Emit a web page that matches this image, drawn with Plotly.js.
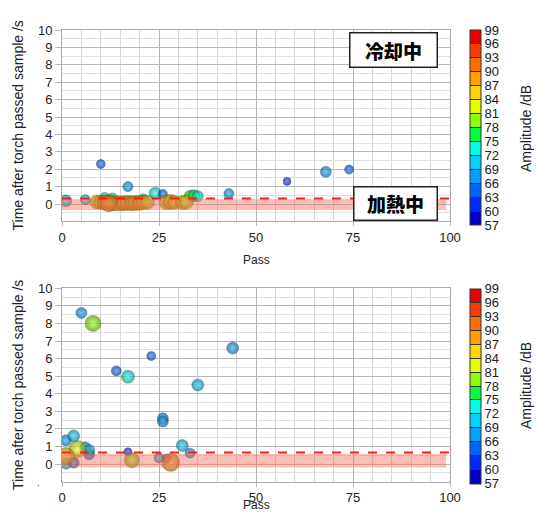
<!DOCTYPE html>
<html>
<head>
<meta charset="utf-8">
<script src="https://cdn.plot.ly/plotly-3.0.1.min.js"></script>
<style>html,body{margin:0;padding:0;background:#fff;}#chart{width:536px;height:515px;}</style>
</head>
<body>
<div id="chart"></div>
<script>
// ---- data ----
// Top panel (cooling / heating)
const topPass = [11, 13, 21, 1, 6, 10, 17, 24, 26, 43, 58, 68, 74,
  9, 10, 11, 13, 14, 15, 16, 17, 18, 19, 20, 21, 22, 12,
  33, 34, 35, 27, 28, 29, 31, 32];
const topTime = [0.38, 0.35, 0.3, 0.18, 0.25, 2.3, 1.0, 0.62, 0.58, 0.6, 1.3, 1.85, 1.98,
  0.12, 0.1, 0.08, 0.05, 0.05, 0.04, 0.05, 0.06, 0.05, 0.06, 0.07, 0.08, 0.1, 0.05,
  0.45, 0.48, 0.45, 0.1, 0.12, 0.1, 0.08, 0.1];
const topAmp = [73, 74, 72, 71, 70, 64, 67, 72, 64, 67, 61, 68, 65,
  85, 86, 87, 88, 86, 86, 87, 86, 87, 86, 87, 86, 85, 89,
  77, 76, 72, 84, 85, 84, 84, 83];
const topSize = [10, 10, 10, 12, 10, 9, 10, 12, 9, 10, 8, 11, 9,
  14, 14, 15, 15, 15, 15, 15, 15, 15, 15, 15, 14, 14, 17,
  12, 12, 11, 15, 15, 14, 14, 14];

// Bottom panel
const botPass = [5, 8, 14, 17, 23, 44, 35, 26, 26, 31, 33, 17, 25, 27, 18, 28,
  1, 3, 1, 3, 6, 7, 7, 4, 1];
const botTime = [8.6, 8.0, 5.3, 4.97, 6.15, 6.6, 4.5, 2.6, 2.42, 1.05, 0.62, 0.7, 0.35, 0.3, 0.22, 0.1,
  1.35, 1.6, 0.05, 0.08, 0.95, 0.55, 0.8, 0.85, 0.45];
const botAmp = [67, 80, 64, 73, 64, 67, 71, 68, 68, 71, 66, 61, 66, 64, 79, 88,
  68, 70, 70, 65, 67, 63, 71, 82, 86];
const botSize = [11, 16, 10, 13, 9, 12, 12, 11, 11, 12, 10, 8, 10, 9, 15, 18,
  11, 12, 12, 11, 11, 11, 11, 17, 17];

// thresholds
const topDashY = 0.32, topBand = [-0.35, 0.28];
const botDashY = 0.65, botBand = [-0.2, 0.57];

const cbTicks = [57, 60, 63, 66, 69, 72, 75, 78, 81, 84, 87, 90, 93, 96, 99];
const xTicks = [0, 25, 50, 75, 100];
const yTicks = [0, 1, 2, 3, 4, 5, 6, 7, 8, 9, 10];

// ---- styling ----
const bandColors = ['#0000C8', '#0028FF', '#0064FF', '#00A0FF', '#00D2FF', '#00FFE6', '#00FF3C',
  '#8CFF00', '#E6FF00', '#FFD700', '#FFA000', '#FF6E00', '#FF3C00', '#E60000'];
const cmin = 57, cmax = 99;
const colorscale = [];
bandColors.forEach((c, i) => {
  colorscale.push([i / bandColors.length, c]);
  colorscale.push([(i + 1) / bandColors.length, c]);
});
function hex2rgb(h) { return [parseInt(h.slice(1, 3), 16), parseInt(h.slice(3, 5), 16), parseInt(h.slice(5, 7), 16)]; }
function ampColor(a) {
  let i = Math.floor((a - cmin) / 3);
  i = Math.max(0, Math.min(bandColors.length - 1, i));
  return hex2rgb(bandColors[i]);
}
function mix(rgb, t, target) {
  return 'rgb(' + rgb.map((v, k) => Math.round(v + (target[k] - v) * t)).join(',') + ')';
}
const centre = a => mix(ampColor(a), 0.22, [255, 255, 255]);
const rim = a => mix(ampColor(a), 0.42, [0, 0, 0]);
const rimLine = a => mix(ampColor(a), 0.6, [0, 0, 0]);

const W = 536, H = 515;
const px = v => v / W, py = v => 1 - v / H;

function spheres(xs, ys, amps, sizes, xa, ya) {
  return {
    type: 'scatter', mode: 'markers', x: xs, y: ys, xaxis: xa, yaxis: ya,
    hoverinfo: 'x+y',
    marker: {
      size: sizes, color: amps.map(rim),
      gradient: { type: 'radial', color: amps.map(centre) },
      line: { width: 0.5, color: amps.map(rimLine) }
    }
  };
}
function scaleTrace(xa, ya, cbCenter) {
  return {
    type: 'scatter', mode: 'markers', x: cbTicks.map(() => -50), y: cbTicks.map(() => -50),
    xaxis: xa, yaxis: ya, hoverinfo: 'skip',
    marker: {
      size: 1, color: cbTicks, colorscale: colorscale, cmin: cmin, cmax: cmax, showscale: true,
      colorbar: {
        x: px(470), xanchor: 'left', xpad: 0, ypad: 0,
        y: py(cbCenter), yanchor: 'middle', len: 195, lenmode: 'pixels',
        thickness: 11, thicknessmode: 'pixels',
        outlinecolor: '#333', outlinewidth: 1,
        tickmode: 'array', tickvals: cbTicks, ticktext: cbTicks.map(String),
        ticks: 'inside', ticklen: 11, tickcolor: '#333', tickwidth: 1,
        tickfont: { family: 'Liberation Sans, Arial, sans-serif', size: 13, color: '#222' }
      }
    }
  };
}

const axisCommon = {
  showline: true, mirror: true, linecolor: '#a8a8a8', linewidth: 1,
  zeroline: false, ticks: 'outside', tickcolor: '#b8b8b8', tickfont: { family: 'Liberation Sans, Arial, sans-serif', size: 13, color: '#222' }
};
function xaxis(anchor) {
  return Object.assign({}, axisCommon, {
    domain: [px(62), px(450)], anchor: anchor, range: [0, 100],
    tickmode: 'array', tickvals: xTicks, ticklen: 4,
    showgrid: true, gridcolor: '#b4b4b4', gridwidth: 1,
    minor: { dtick: 5, showgrid: true, gridcolor: '#d6d6d6', gridwidth: 1, ticks: '' }
  });
}
function yaxis(anchor, top, bottom) {
  return Object.assign({}, axisCommon, {
    domain: [py(bottom), py(top)], anchor: anchor, range: [-1, 10],
    tickmode: 'array', tickvals: yTicks, ticklen: 6,
    showgrid: true, gridcolor: '#b8b8b8', gridwidth: 1,
    minor: { dtick: 0.5, showgrid: true, gridcolor: '#e0e0e0', gridwidth: 1, ticks: '' }
  });
}

const bandFill = 'rgba(248,110,90,0.45)';
const shapes = [
  { type: 'rect', xref: 'x', yref: 'y', x0: 0, x1: 99, y0: topBand[0], y1: topBand[1], fillcolor: bandFill, line: { width: 0 }, layer: 'above' },
  { type: 'line', xref: 'x', yref: 'y', x0: 0, x1: 100, y0: topDashY, y1: topDashY, line: { color: '#ff1a1a', width: 2, dash: 'dash' }, layer: 'above' },
  { type: 'rect', xref: 'x2', yref: 'y2', x0: 0, x1: 99, y0: botBand[0], y1: botBand[1], fillcolor: bandFill, line: { width: 0 }, layer: 'above' },
  { type: 'line', xref: 'x2', yref: 'y2', x0: 0, x1: 100, y0: botDashY, y1: botDashY, line: { color: '#ff1a1a', width: 2, dash: 'dash' }, layer: 'above' }
];

const txtFont = { family: 'Liberation Sans, Arial, sans-serif', size: 14, color: '#222' };
const passFont = { family: 'Liberation Sans, Arial, sans-serif', size: 12, color: '#222' };
const cjk = { family: 'Noto Sans CJK JP, Noto Sans CJK SC, sans-serif', size: 19, color: '#000', weight: 900 };
const annotations = [
  { xref: 'paper', yref: 'paper', x: px(18), y: py(125.5), text: 'Time after torch passed sample /s', textangle: -90, showarrow: false, font: txtFont, xanchor: 'center', yanchor: 'middle' },
  { xref: 'paper', yref: 'paper', x: px(18), y: py(385), text: 'Time after torch passed sample /s', textangle: -90, showarrow: false, font: txtFont, xanchor: 'center', yanchor: 'middle' },
  { xref: 'paper', yref: 'paper', x: px(526), y: py(129), text: 'Amplitude /dB', textangle: -90, showarrow: false, font: txtFont, xanchor: 'center', yanchor: 'middle' },
  { xref: 'paper', yref: 'paper', x: px(526), y: py(386), text: 'Amplitude /dB', textangle: -90, showarrow: false, font: txtFont, xanchor: 'center', yanchor: 'middle' },
  { xref: 'paper', yref: 'paper', x: px(256), y: py(251), text: 'Pass', showarrow: false, font: passFont, xanchor: 'center', yanchor: 'top' },
  { xref: 'paper', yref: 'paper', x: px(256), y: py(514), text: 'Pass', showarrow: false, font: passFont, xanchor: 'center', yanchor: 'bottom' },
  { xref: 'paper', yref: 'paper', x: px(38), y: py(482), text: '.', showarrow: false, font: { size: 10, color: '#444' }, xanchor: 'center', yanchor: 'middle' },
  { xref: 'paper', yref: 'paper', x: px(393), y: py(50), text: '冷却中', showarrow: false, font: cjk, bgcolor: '#fff', bordercolor: '#222', borderwidth: 1.5, borderpad: 3, width: 80, height: 27, xanchor: 'center', yanchor: 'middle' },
  { xref: 'paper', yref: 'paper', x: px(395.5), y: py(203.5), text: '加熱中', showarrow: false, font: cjk, bgcolor: '#fff', bordercolor: '#222', borderwidth: 1.5, borderpad: 3, width: 76, height: 26, xanchor: 'center', yanchor: 'middle' }
];

const layout = {
  width: W, height: H, margin: { l: 0, r: 0, t: 0, b: 0 },
  paper_bgcolor: '#fff', plot_bgcolor: '#fff', showlegend: false,
  xaxis: xaxis('y'), yaxis: yaxis('x', 30, 221.4),
  xaxis2: xaxis('y2'), yaxis2: yaxis('x2', 288.3, 481.6),
  shapes: shapes, annotations: annotations
};

Plotly.newPlot('chart', [
  scaleTrace('x', 'y', 127.5),
  spheres(topPass, topTime, topAmp, topSize, 'x', 'y'),
  scaleTrace('x2', 'y2', 386),
  spheres(botPass, botTime, botAmp, botSize, 'x2', 'y2')
], layout, { staticPlot: true });
</script>
</body>
</html>
